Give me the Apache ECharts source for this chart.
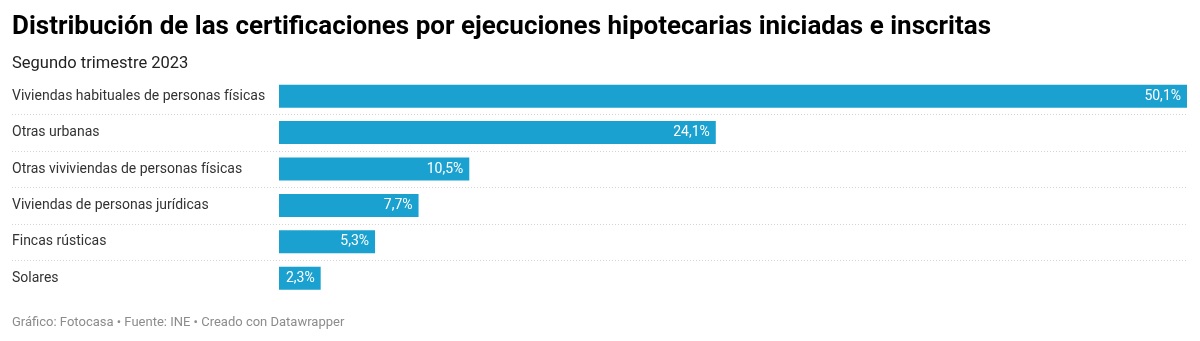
<!DOCTYPE html>
<html>
<head>
<meta charset="utf-8">
<script src="https://cdn.jsdelivr.net/npm/echarts@6/dist/echarts.min.js"></script>
<style>
  html, body { margin: 0; padding: 0; background: #ffffff; }
  #chart { width: 1200px; height: 341px; }
</style>
</head>
<body>
<div id="chart"></div>
<script>
const titleText = 'Distribución de las certificaciones por ejecuciones hipotecarias iniciadas e inscritas';
const subtitleText = 'Segundo trimestre 2023';
const footerText = 'Gráfico: Fotocasa • Fuente: INE • Creado con Datawrapper';

const categories = [
  'Viviendas habituales de personas físicas',
  'Otras urbanas',
  'Otras viviviendas de personas físicas',
  'Viviendas de personas jurídicas',
  'Fincas rústicas',
  'Solares'
];
const values = [50.1, 24.1, 10.5, 7.7, 5.3, 2.3];

const FONT = 'Roboto, "Noto Sans", sans-serif';
const separators = categories.slice(0, -1).map((c, i) => [0, i]);

const chart = echarts.init(document.getElementById('chart'), null, { renderer: 'canvas' });
chart.setOption({
  animation: false,
  backgroundColor: '#ffffff',
  title: [
    { text: titleText, left: 12, top: 14, padding: 0,
      textStyle: { fontFamily: FONT, fontSize: 26, fontWeight: 'bold', color: '#000000' } },
    { text: subtitleText, left: 12, top: 55, padding: 0,
      textStyle: { fontFamily: FONT, fontSize: 16.5, fontWeight: 'normal', color: '#222222' } },
    { text: footerText, left: 12, top: 316, padding: 0,
      textStyle: { fontFamily: FONT, fontSize: 13, fontWeight: 'normal', color: '#8c8c8c' } }
  ],
  grid: [
    { left: 279, right: 13, top: 78, height: 218.4, containLabel: false },
    { left: 12, right: 13, top: 78, height: 218.4, containLabel: false }
  ],
  xAxis: [
    { type: 'value', gridIndex: 0, min: 0, max: 50.1, show: false },
    { type: 'value', gridIndex: 1, min: 0, max: 1, show: false }
  ],
  yAxis: [
    { type: 'category', gridIndex: 0, data: categories, inverse: true,
      axisLine: { show: false }, axisTick: { show: false }, splitLine: { show: false },
      axisLabel: { align: 'left', margin: 267, fontFamily: FONT, fontSize: 14, color: '#333333' } },
    { type: 'category', gridIndex: 1, data: categories, inverse: true, show: false }
  ],
  series: [
    {
      type: 'custom', xAxisIndex: 1, yAxisIndex: 1, clip: false, silent: true, z: 1,
      data: separators,
      renderItem: function (params, api) {
        const p = api.coord([0, api.value(1)]);
        const h = api.size([0, 1])[1];
        const cs = params.coordSys;
        const y = Math.round(p[1] + h / 2) + 0.5;
        return {
          type: 'line',
          shape: { x1: cs.x, y1: y, x2: cs.x + cs.width, y2: y },
          style: { stroke: '#d4d4d4', lineWidth: 1, lineDash: [1, 2] }
        };
      }
    },
    {
      type: 'bar', xAxisIndex: 0, yAxisIndex: 0, z: 2,
      data: values,
      barWidth: 23,
      itemStyle: { color: '#1ba1cf' },
      label: {
        show: true, position: 'insideRight', distance: 6,
        fontFamily: FONT, fontSize: 14, color: '#ffffff',
        formatter: p => p.value.toFixed(1).replace('.', ',') + '%'
      }
    }
  ]
});
</script>
</body>
</html>
